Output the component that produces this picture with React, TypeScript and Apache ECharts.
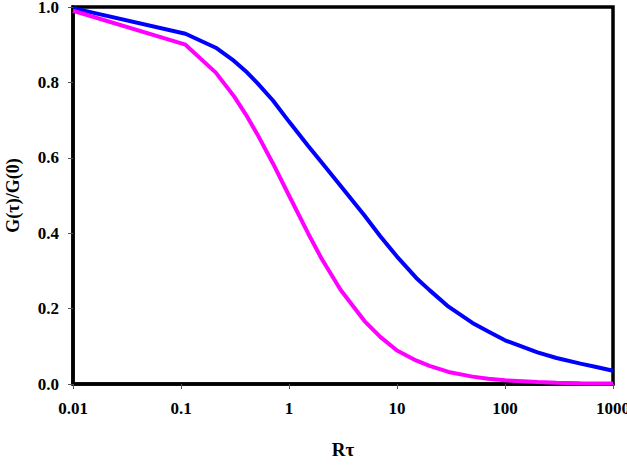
import React, { useEffect, useRef } from "react";
import * as echarts from "echarts";

// Rτ sample positions (log-spaced beyond 1)
const rTau = [
  0.01, 0.11, 0.21, 0.31, 0.41, 0.51, 0.71, 1, 1.5, 2, 3, 5, 7, 10, 15, 20, 30,
  50, 70, 100, 200, 300, 500, 700, 1000,
];

// G(τ)/G(0), blue curve
const blueCurve = [
  0.997, 0.929, 0.892, 0.857, 0.826, 0.798, 0.752, 0.696, 0.632, 0.588, 0.526,
  0.447, 0.392, 0.338, 0.282, 0.249, 0.205, 0.162, 0.139, 0.116, 0.084, 0.069,
  0.054, 0.045, 0.035,
];

// G(τ)/G(0), magenta curve
const magentaCurve = [
  0.99, 0.9, 0.826, 0.763, 0.709, 0.662, 0.585, 0.5, 0.4, 0.333, 0.25, 0.167,
  0.125, 0.089, 0.0625, 0.048, 0.032, 0.0196, 0.014, 0.0099, 0.005, 0.0033,
  0.002, 0.0014, 0.001,
];

const xTickLabels = ["0.01", "0.1", "1", "10", "100", "1000"];

const FONT = "'Liberation Serif', 'Times New Roman', serif";

export default function App() {
  const ref = useRef<HTMLDivElement>(null);

  useEffect(() => {
    if (!ref.current) return;
    const chart = echarts.init(ref.current, null, { renderer: "svg" });
    const toPairs = (ys: number[]) => rTau.map((x, i) => [x, ys[i]]);

    chart.setOption({
      animation: false,
      backgroundColor: "#ffffff",
      grid: {
        left: 73,
        right: 14,
        top: 7,
        bottom: 81,
        containLabel: false,
        outerBoundsMode: "none",
        show: true,
        borderColor: "#000000",
        borderWidth: 3.5,
        backgroundColor: "transparent",
      },
      xAxis: {
        type: "log",
        logBase: 10,
        min: 0.01,
        max: 1000,
        name: "Rτ",
        nameLocation: "middle",
        nameGap: 56,
        nameTextStyle: {
          fontFamily: FONT,
          fontWeight: "bold",
          fontSize: 19,
          color: "#000",
        },
        axisLine: { show: true, lineStyle: { color: "#000", width: 3.5 } },
        axisTick: {
          show: true,
          inside: false,
          length: 5,
          lineStyle: { color: "#555", width: 1 },
        },
        minorTick: { show: false },
        splitLine: { show: false },
        axisLabel: {
          margin: 16,
          fontFamily: FONT,
          fontWeight: "bold",
          fontSize: 17,
          color: "#000",
          formatter: (_v: number, idx: number) => xTickLabels[idx] ?? "",
        },
      },
      yAxis: {
        type: "value",
        min: 0,
        max: 1,
        interval: 0.2,
        name: "G(τ)/G(0)",
        nameLocation: "middle",
        nameGap: 51,
        nameRotate: 90,
        nameTextStyle: {
          fontFamily: FONT,
          fontWeight: "bold",
          fontSize: 18,
          color: "#000",
        },
        axisLine: { show: true, lineStyle: { color: "#000", width: 3.5 } },
        axisTick: {
          show: true,
          inside: false,
          length: 5,
          lineStyle: { color: "#555", width: 1 },
        },
        splitLine: { show: false },
        axisLabel: {
          margin: 14,
          fontFamily: FONT,
          fontWeight: "bold",
          fontSize: 17,
          color: "#000",
          formatter: (v: number) => v.toFixed(1),
        },
      },
      series: [
        {
          type: "line",
          data: toPairs(blueCurve),
          showSymbol: false,
          clip: false,
          lineStyle: { color: "#0000ff", width: 4 },
          z: 3,
        },
        {
          type: "line",
          data: toPairs(magentaCurve),
          showSymbol: false,
          clip: false,
          lineStyle: { color: "#ff00ff", width: 4 },
          z: 4,
        },
      ],
    });

    return () => chart.dispose();
  }, []);

  return <div ref={ref} style={{ width: 627, height: 465, position: "absolute", left: 0, top: 0 }} />;
}
